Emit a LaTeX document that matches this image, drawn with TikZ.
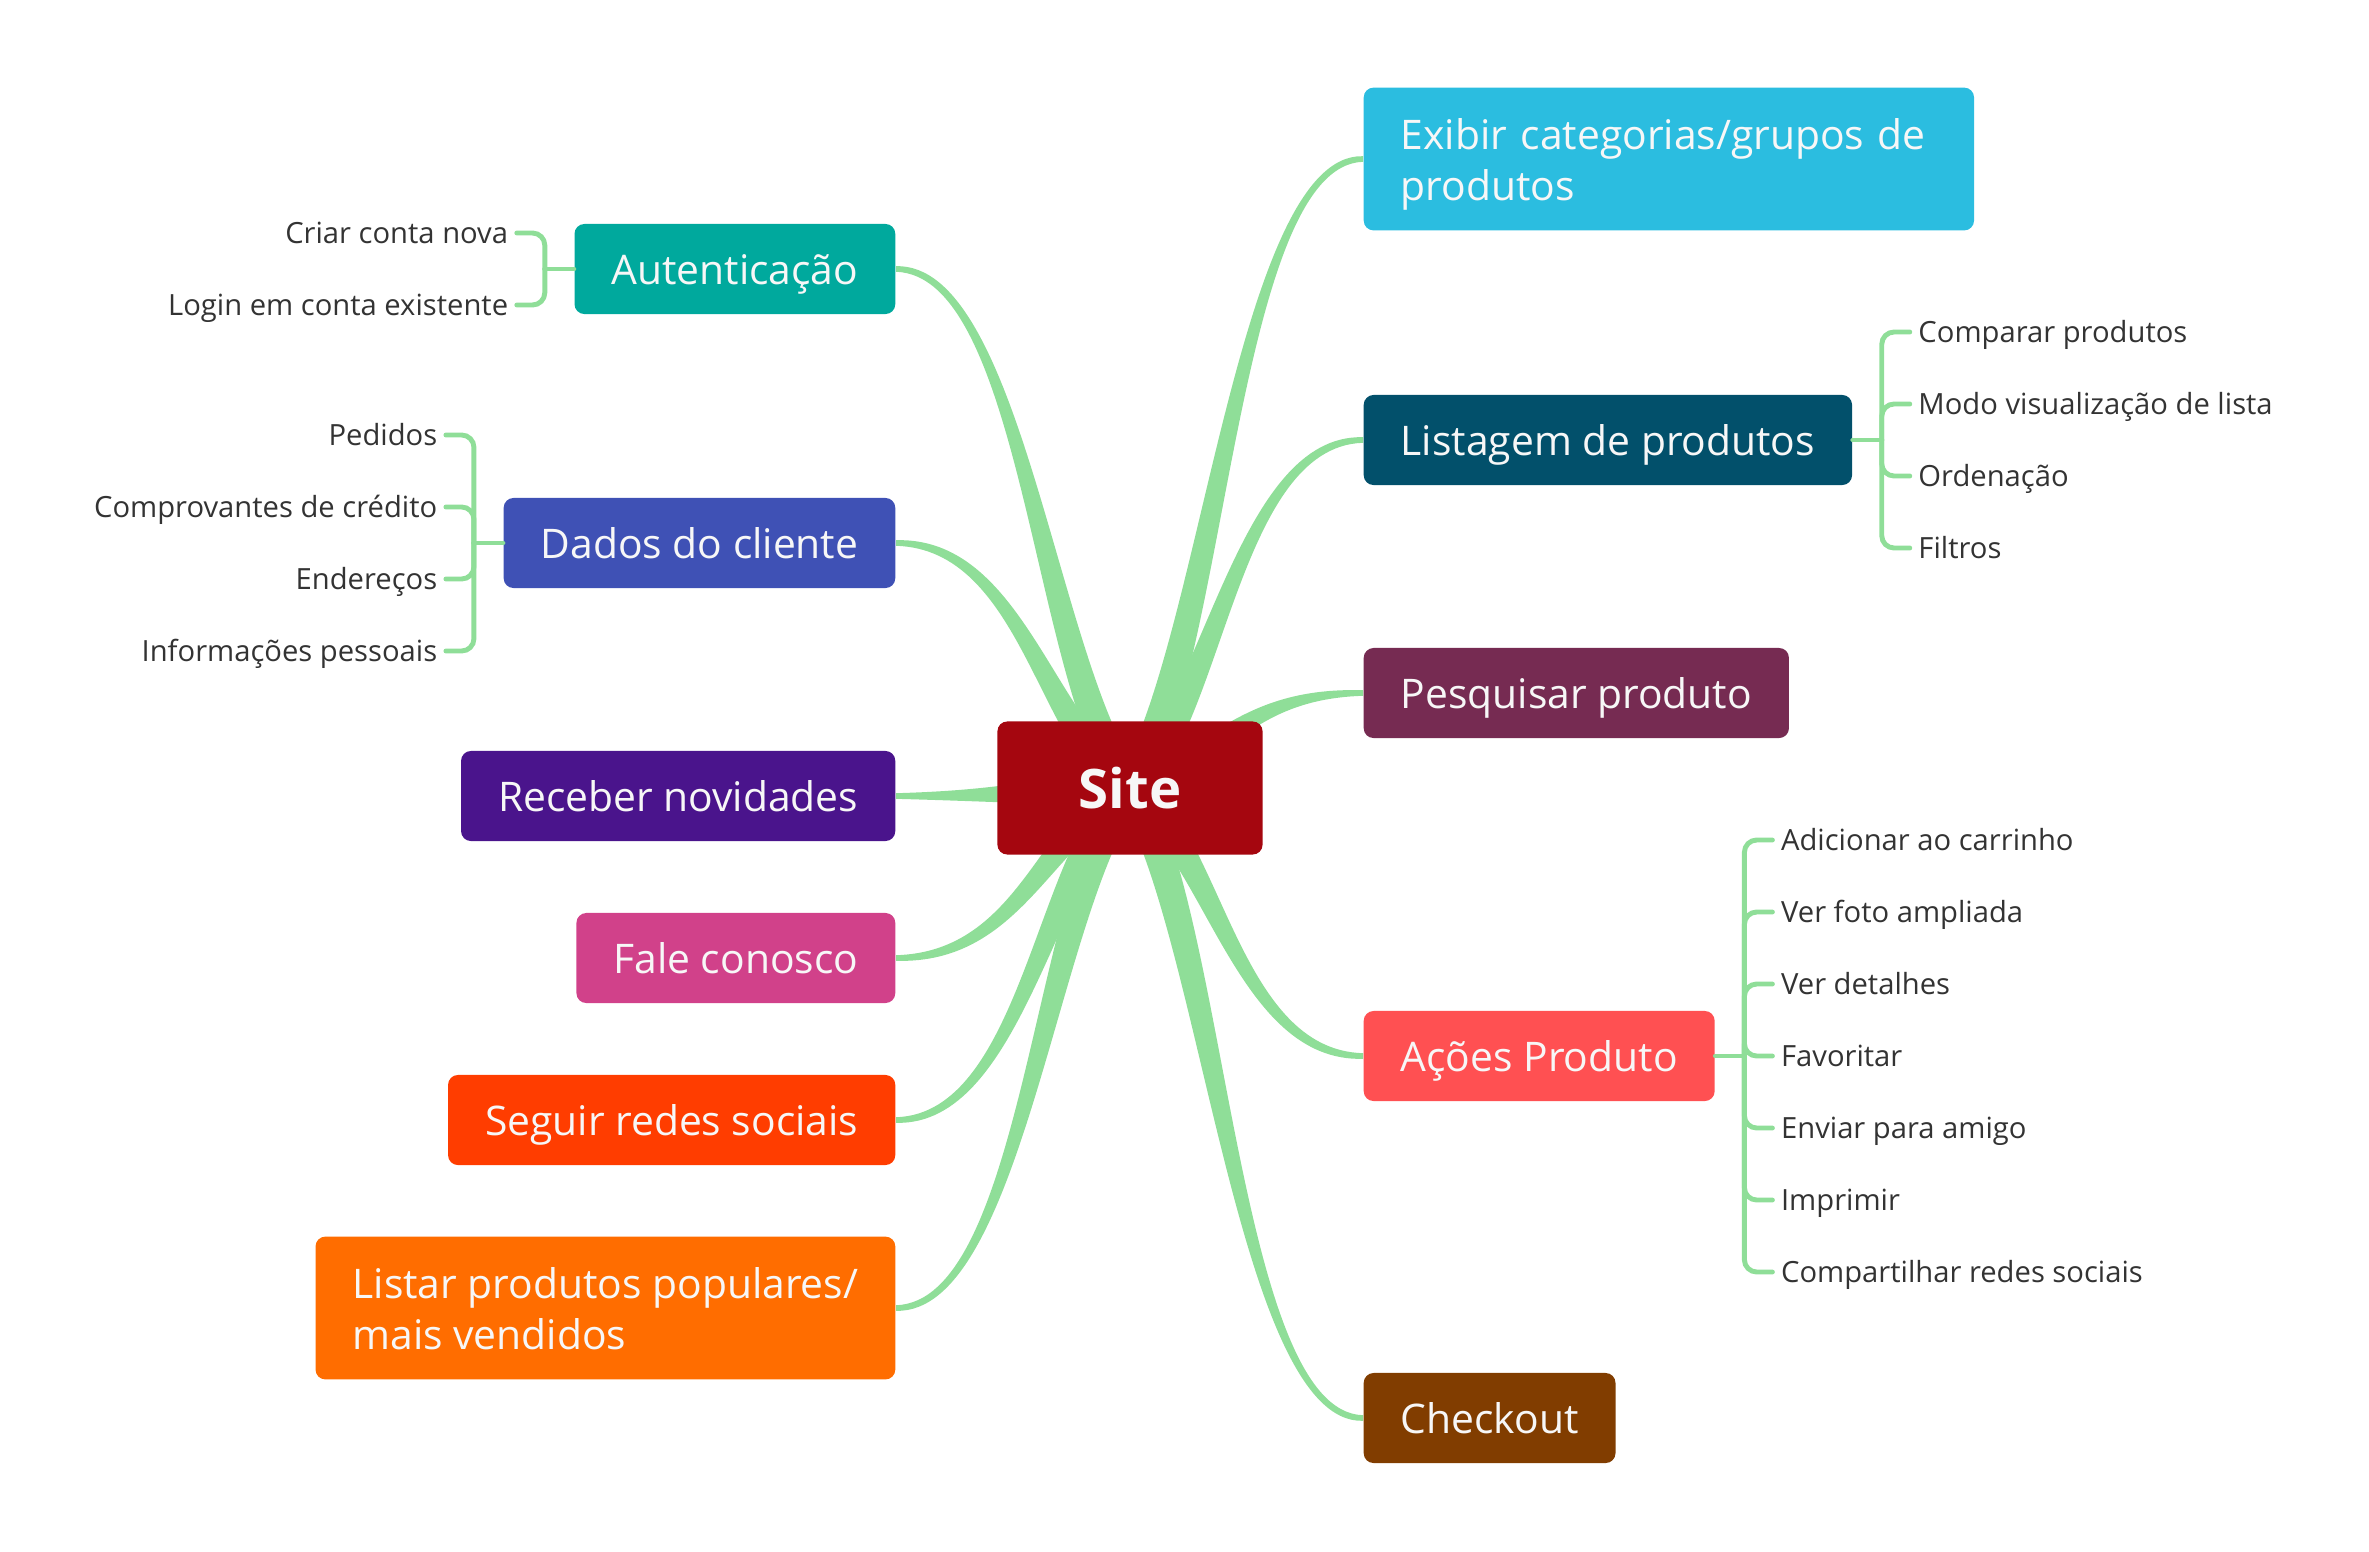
\documentclass[tikz,border=0pt]{standalone}
\usepackage{fontspec}
\setmainfont{Open Sans}
\usepackage{tikz}
\usetikzlibrary{calc}
\usetikzlibrary{backgrounds}

\definecolor{limbgreen}{HTML}{8FDE98}
\definecolor{leafgray}{HTML}{333333}
\definecolor{nodewhite}{HTML}{F7F7F7}
\definecolor{sitered}{HTML}{A5060F}
\definecolor{exibircol}{HTML}{2BBDE0}
\definecolor{listagemcol}{HTML}{02506B}
\definecolor{pesquisarcol}{HTML}{762B52}
\definecolor{acoescol}{HTML}{FF5052}
\definecolor{checkoutcol}{HTML}{813D00}
\definecolor{autentcol}{HTML}{00A99D}
\definecolor{dadoscol}{HTML}{3F51B5}
\definecolor{recebercol}{HTML}{4A148C}
\definecolor{falecol}{HTML}{D1418A}
\definecolor{seguircol}{HTML}{FF3D00}
\definecolor{popularcol}{HTML}{FF6D00}

% tapered branch from the centre topic to a child
\newcommand{\limb}[2]{%
  \coordinate (la) at ($(#1)!0.36!(#2)$);
  \coordinate (lb) at ($(#1)!0.21!(#2)$);
  \coordinate (lc) at ($(#1)!0.46!(#2)$);
  \coordinate (lone) at (la |- lb);
  \coordinate (ltwo) at (lc |- #2);
  \fill[limbgreen] ($(#1)!4.5pt!90:(lone)$)
    .. controls ($(lone)!4.5pt!-90:(#1)$) and ($(ltwo)!1.8pt!90:(#2)$) .. ($(#2)!0.8pt!-90:(ltwo)$)
    -- ($(#2)!0.8pt!90:(ltwo)$)
    .. controls ($(ltwo)!1.8pt!-90:(#2)$) and ($(lone)!4.5pt!90:(#1)$) .. ($(#1)!4.5pt!-90:(lone)$)
    -- cycle;
}

\begin{document}
\begin{tikzpicture}[x=0.01cm, y=-0.01cm,
    box/.style={rounded corners=2.8pt, text=nodewhite, font=\fontsize{11.6}{14.6}\selectfont,
      inner xsep=0.37cm, inner ysep=0.19cm, minimum height=0.9cm, align=left},
    topic/.style={box, text height=10pt, text depth=1.4pt, inner ysep=0pt},
    leaf/.style={text=leafgray, font=\fontsize{8.3}{10}\selectfont, inner xsep=0.08cm,
      inner ysep=0pt, text height=7pt, text depth=1pt},
    twig/.style={draw=limbgreen, line width=1.4pt, rounded corners=3.5pt, line cap=round}]

    \useasboundingbox (0,0) rectangle (2369,1551);

    \node[topic, fill=sitered, font=\fontsize{15.5}{18}\selectfont\bfseries,
      minimum width=2.65cm, minimum height=1.33cm, align=center, text height=11.5pt, text depth=0pt] (site) at (1130, 788) {Site};

    % right side
    \node[box, fill=exibircol, anchor=west, text width=5.36cm, minimum height=1.42cm] (exibir) at (1363, 159)
      {\rule{0pt}{12.2pt}Exibir categorias/grupos de\\produtos\rule[-3pt]{0pt}{3pt}};
    \node[topic, fill=listagemcol, anchor=west]  (listagem)  at (1363, 440)  {Listagem de produtos};
    \node[topic, fill=pesquisarcol, anchor=west] (pesquisar) at (1363, 693)  {Pesquisar produto};
    \node[topic, fill=acoescol, anchor=west]     (acoes)     at (1363, 1056) {Ações Produto};
    \node[topic, fill=checkoutcol, anchor=west]  (checkout)  at (1363, 1418) {Checkout};

    % left side
    \node[topic, fill=autentcol, anchor=east]    (autent)    at (896, 269)   {Autenticação};
    \node[topic, fill=dadoscol, anchor=east]     (dados)     at (896, 543)   {Dados do cliente};
    \node[topic, fill=recebercol, anchor=east]   (receber)   at (896, 796)   {Receber novidades};
    \node[topic, fill=falecol, anchor=east]      (fale)      at (896, 958)   {Fale conosco};
    \node[topic, fill=seguircol, anchor=east]    (seguir)    at (896, 1120)  {Seguir redes sociais};
    \node[box, fill=popularcol, anchor=east, minimum height=1.42cm] (populares) at (896, 1308)
      {\rule{0pt}{12.2pt}Listar produtos populares/\\mais vendidos\rule[-3pt]{0pt}{3pt}};

    \begin{pgfonlayer}{background}
      \limb{site.center}{exibir.west}
      \limb{site.center}{listagem.west}
      \limb{site.center}{pesquisar.west}
      \limb{site.center}{acoes.west}
      \limb{site.center}{checkout.west}
      \limb{site.center}{autent.east}
      \limb{site.center}{dados.east}
      \limb{site.center}{receber.east}
      \limb{site.center}{fale.east}
      \limb{site.center}{seguir.east}
      \limb{site.center}{populares.east}
    \end{pgfonlayer}

    % sub topics
    \coordinate (autfork) at ($(autent.west)+(-29,0)$);
    \node[leaf, anchor=east] (criar) at ($(autfork)+(-28,-36)$) {Criar conta nova};
    \node[leaf, anchor=east] (login) at ($(autfork)+(-28,36)$)  {Login em conta existente};

    \coordinate (dadfork) at ($(dados.west)+(-29,0)$);
    \node[leaf, anchor=east] (pedidos)   at ($(dadfork)+(-28,-108)$) {Pedidos};
    \node[leaf, anchor=east] (comprov)   at ($(dadfork)+(-28,-36)$)  {Comprovantes de crédito};
    \node[leaf, anchor=east] (enderecos) at ($(dadfork)+(-28,36)$)   {Endereços};
    \node[leaf, anchor=east] (infos)     at ($(dadfork)+(-28,108)$)  {Informações pessoais};

    \coordinate (lisfork) at ($(listagem.east)+(29,0)$);
    \node[leaf, anchor=west] (comparar)  at ($(lisfork)+(28,-108)$) {Comparar produtos};
    \node[leaf, anchor=west] (modo)      at ($(lisfork)+(28,-36)$)  {Modo visualização de lista};
    \node[leaf, anchor=west] (ordenacao) at ($(lisfork)+(28,36)$)   {Ordenação};
    \node[leaf, anchor=west] (filtros)   at ($(lisfork)+(28,108)$)  {Filtros};

    \coordinate (acofork) at ($(acoes.east)+(29,0)$);
    \node[leaf, anchor=west] (adicionar)    at ($(acofork)+(28,-216)$) {Adicionar ao carrinho};
    \node[leaf, anchor=west] (foto)         at ($(acofork)+(28,-144)$) {Ver foto ampliada};
    \node[leaf, anchor=west] (detalhes)     at ($(acofork)+(28,-72)$)  {Ver detalhes};
    \node[leaf, anchor=west] (favoritar)    at ($(acofork)+(28,0)$)    {Favoritar};
    \node[leaf, anchor=west] (enviar)       at ($(acofork)+(28,72)$)   {Enviar para amigo};
    \node[leaf, anchor=west] (imprimir)     at ($(acofork)+(28,144)$)  {Imprimir};
    \node[leaf, anchor=west] (compartilhar) at ($(acofork)+(28,216)$)  {Compartilhar redes sociais};

    \draw[twig] (autent.west) -- (autfork);
    \foreach \leafname in {criar, login}
      \draw[twig] (autfork) |- (\leafname.east);

    \draw[twig] (dados.west) -- (dadfork);
    \foreach \leafname in {pedidos, comprov, enderecos, infos}
      \draw[twig] (dadfork) |- (\leafname.east);

    \draw[twig] (listagem.east) -- (lisfork);
    \foreach \leafname in {comparar, modo, ordenacao, filtros}
      \draw[twig] (lisfork) |- (\leafname.west);

    \draw[twig] (acoes.east) -- (acofork);
    \foreach \leafname in {adicionar, foto, detalhes, favoritar, enviar, imprimir, compartilhar}
      \draw[twig] (acofork) |- (\leafname.west);
  \end{tikzpicture}
\end{document}
